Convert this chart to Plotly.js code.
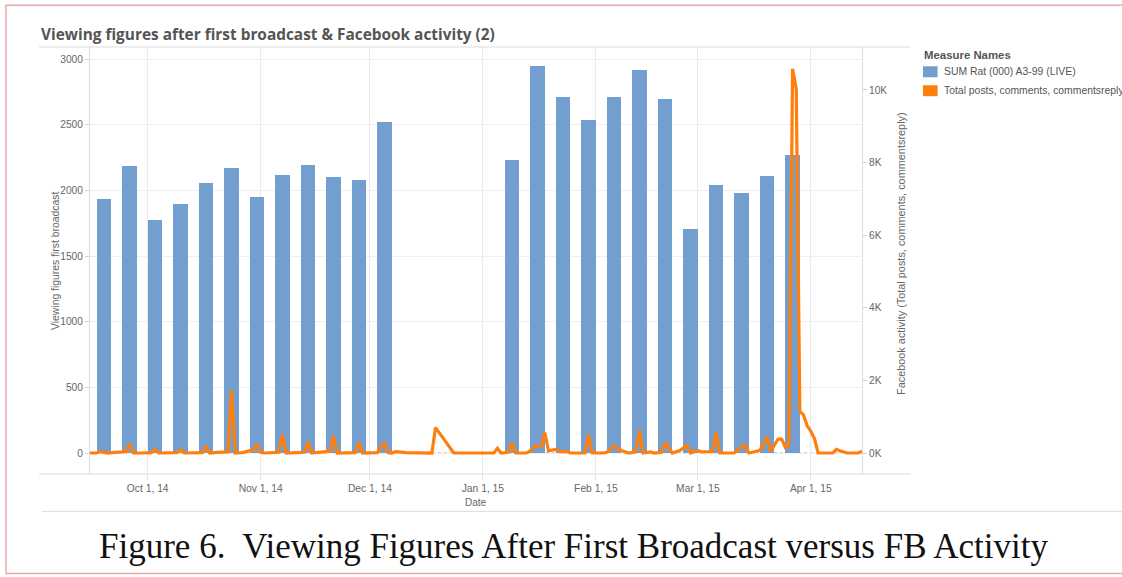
<!DOCTYPE html>
<html><head><meta charset="utf-8">
<script src="https://cdn.plot.ly/plotly-3.0.1.min.js"></script>
<style>html,body{margin:0;padding:0;background:#fff;overflow:hidden}#chart{width:1122px;height:577px}</style>
</head><body><div id="chart"></div>
<script>
// ---- data ----
const barDates = ['2014-09-19','2014-09-26','2014-10-03','2014-10-10','2014-10-17','2014-10-24','2014-10-31','2014-11-07','2014-11-14','2014-11-21','2014-11-28','2014-12-05',
  '2015-01-09','2015-01-16','2015-01-23','2015-01-30','2015-02-06','2015-02-13','2015-02-20','2015-02-27','2015-03-06','2015-03-13','2015-03-20','2015-03-27'];
const viewing = [1935,2190,1775,1895,2060,2170,1950,2115,2195,2100,2080,2520,
  2235,2950,2710,2540,2715,2915,2700,1710,2045,1980,2110,2270];

const fbDates = ['2014-09-15','2014-09-17','2014-09-18','2014-09-19','2014-09-20','2014-09-22','2014-09-24','2014-09-25','2014-09-26','2014-09-27','2014-09-29',
  '2014-10-01','2014-10-02','2014-10-03','2014-10-04','2014-10-09','2014-10-10','2014-10-11','2014-10-16','2014-10-17','2014-10-18','2014-10-20','2014-10-22','2014-10-23','2014-10-24','2014-10-25','2014-10-27','2014-10-29','2014-10-30','2014-10-31',
  '2014-11-01','2014-11-02','2014-11-06','2014-11-07','2014-11-08','2014-11-13','2014-11-14','2014-11-15','2014-11-18','2014-11-20','2014-11-21','2014-11-22','2014-11-27','2014-11-28','2014-11-29',
  '2014-12-03','2014-12-05','2014-12-06','2014-12-07','2014-12-08','2014-12-11','2014-12-18','2014-12-19','2014-12-24',
  '2015-01-04','2015-01-05','2015-01-06','2015-01-08','2015-01-09','2015-01-10','2015-01-13','2015-01-14','2015-01-15','2015-01-16','2015-01-17','2015-01-18','2015-01-19','2015-01-21','2015-01-22','2015-01-24','2015-01-25','2015-01-29','2015-01-30','2015-01-31',
  '2015-02-03','2015-02-04','2015-02-06','2015-02-08','2015-02-10','2015-02-12','2015-02-13','2015-02-14','2015-02-16','2015-02-17','2015-02-19','2015-02-20','2015-02-22','2015-02-24','2015-02-26','2015-02-27',
  '2015-03-01','2015-03-02','2015-03-05','2015-03-06','2015-03-07','2015-03-11','2015-03-13','2015-03-14','2015-03-15','2015-03-18','2015-03-20','2015-03-21','2015-03-23','2015-03-24','2015-03-25','2015-03-26','2015-03-27','2015-03-28','2015-03-29','2015-03-30','2015-03-31',
  '2015-04-01','2015-04-02','2015-04-03','2015-04-07','2015-04-08','2015-04-09','2015-04-11','2015-04-14','2015-04-15'];
const fbActivity = [0,0,40,10,0,20,30,35,250,0,0,
  10,10,100,0,10,90,0,10,190,0,20,30,30,1730,0,10,50,90,240,
  20,0,20,510,0,20,300,0,30,50,475,0,10,285,0,
  10,285,10,0,40,10,0,700,0,
  0,130,0,20,285,0,0,60,165,190,190,560,60,100,40,40,0,0,510,0,
  0,20,190,70,0,30,620,0,30,0,20,285,0,70,210,0,
  70,30,40,560,0,0,165,210,0,70,440,40,385,385,160,230,10580,10030,1150,1050,750,
  600,400,0,0,100,60,0,0,50];

const leftTicks = [0,500,1000,1500,2000,2500,3000];
const rightTicks = [0,2000,4000,6000,8000,10000];
const rightTickText = ['0K','2K','4K','6K','8K','10K'];
const seriesNames = ['SUM Rat (000) A3-99 (LIVE)','Total posts, comments, commentsreply'];

// ---- layout helpers (pixel -> paper) ----
const L=90, R=861.7, T=46.7, B=474.3, W=1122, H=577;
const fx = p => (p-L)/(R-L);
const fy = p => (B-p)/(B-T);
const BLUE='#729fcf', ORANGE='#ff7f0e';
const sans = 'Liberation Sans, Arial, sans-serif';

const traces = [
  {type:'bar', x:barDates, y:viewing, name:seriesNames[0], marker:{color:BLUE, line:{width:0}},
   width:4*86400000, yaxis:'y', showlegend:false, hoverinfo:'x+y'},
  {type:'scatter', mode:'lines', x:fbDates, y:fbActivity, name:seriesNames[1], yaxis:'y2',
   line:{color:ORANGE, width:3.2, shape:'linear'}, showlegend:false}
];

const ann = (x,y,text,opts) => Object.assign({xref:'paper',yref:'paper',x:fx(x),y:fy(y),text:text,showarrow:false,
  xanchor:'center',yanchor:'middle',font:{family:sans,size:10,color:'#666'}},opts||{});

const layout = {
  width:W, height:H,
  margin:{l:L, r:W-R, t:T, b:H-B, pad:0},
  paper_bgcolor:'#fff', plot_bgcolor:'#fff',
  showlegend:false,
  bargap:0,
  xaxis:{type:'date', range:['2014-09-15 03:50','2015-04-15 01:12'],
    tick0:'2014-10-01', dtick:'M1', tickformat:'%b %-d, %y',
    showgrid:true, gridcolor:'#ebebeb', gridwidth:1, zeroline:false, showline:false,
    ticks:'outside', ticklen:5, tickcolor:'#e3e3e3',
    tickfont:{family:sans,size:10.3,color:'#666'}},
  yaxis:{range:[-160,3093.6], tickvals:leftTicks, showgrid:true, gridcolor:'#efefef', zeroline:false,
    showline:true, linecolor:'#dcdcdc', linewidth:1, ticks:'outside', ticklen:4, tickcolor:'#d0d0d0',
    tickfont:{family:sans,size:10.2,color:'#666'}},
  yaxis2:{overlaying:'y', side:'right', range:[-578,11183], tickvals:rightTicks, ticktext:rightTickText,
    showgrid:false, zeroline:false, showline:true, linecolor:'#dcdcdc', linewidth:1,
    ticks:'outside', ticklen:4, tickcolor:'#d0d0d0',
    tickfont:{family:sans,size:10.2,color:'#666'}},
  shapes:[
    {type:'line', xref:'paper', yref:'paper', x0:fx(39), x1:fx(910), y0:1, y1:1, line:{color:'#dcdcdc',width:1}},
    {type:'line', xref:'paper', yref:'paper', x0:fx(39), x1:fx(910), y0:0, y1:0, line:{color:'#dcdcdc',width:1}},
    {type:'line', xref:'paper', yref:'paper', x0:fx(42), x1:fx(1122), y0:fy(511.7), y1:fy(511.7), line:{color:'#dcdcdc',width:1}},
    {type:'line', xref:'paper', yref:'y', x0:0, x1:1, y0:0, y1:0, line:{color:'#a0a0a0',width:1,dash:'dot'}, layer:'between'},
    {type:'rect', xref:'paper', yref:'paper', x0:fx(6), x1:fx(1140), y0:fy(574), y1:fy(5), line:{color:'#e6aaac',width:1.5}, fillcolor:'rgba(0,0,0,0)'},
    {type:'rect', xref:'paper', yref:'paper', x0:fx(922.7), x1:fx(937.3), y0:fy(77), y1:fy(66), line:{width:0}, fillcolor:BLUE},
    {type:'rect', xref:'paper', yref:'paper', x0:fx(922.7), x1:fx(937.3), y0:fy(96), y1:fy(85), line:{width:0}, fillcolor:ORANGE}
  ],
  annotations:[
    ann(39.5,34.5,'Viewing figures after first broadcast &amp; Facebook activity (2)',{xanchor:'left',font:{family:'Open Sans, sans-serif',size:15.4,color:'#555',weight:'bold'}}),
    ann(921.5,55,'<b>Measure Names</b>',{xanchor:'left',font:{family:sans,size:11.4,color:'#555'}}),
    ann(941.5,71.5,seriesNames[0],{xanchor:'left',font:{family:sans,size:10.4,color:'#555'}}),
    ann(941.5,90.5,seriesNames[1],{xanchor:'left',font:{family:sans,size:10.4,color:'#555'}}),
    ann(55,260,'Viewing figures first broadcast',{textangle:-90,font:{family:sans,size:10.4,color:'#666'}}),
    ann(900.7,254,'Facebook activity (Total posts, comments, commentsreply)',{textangle:-90,font:{family:sans,size:10.9,color:'#666'}}),
    ann(475.8,502.5,'Date',{font:{family:sans,size:10,color:'#666'}}),
    ann(573,547,'Figure 6.\u00a0 Viewing Figures After First Broadcast versus FB Activity',{font:{family:'Liberation Serif, Times New Roman, serif',size:35,color:'#111'}})
  ]
};

Plotly.newPlot('chart', traces, layout, {staticPlot:true, displayModeBar:false});
</script></body></html>
